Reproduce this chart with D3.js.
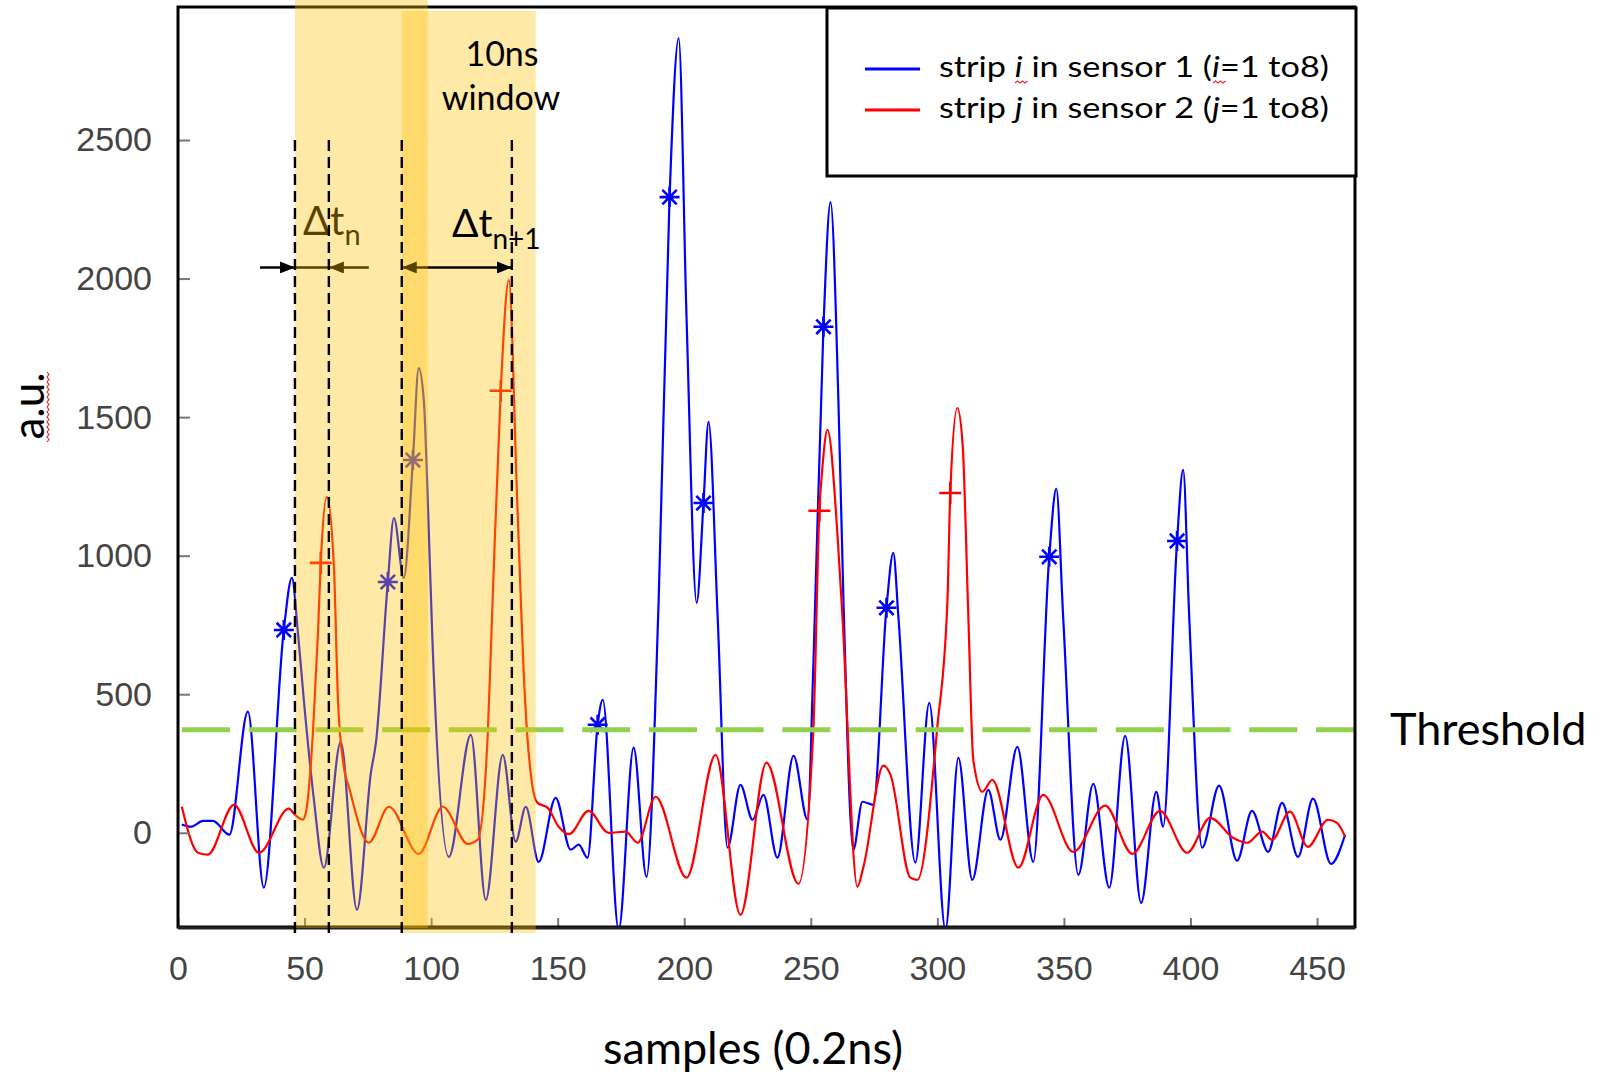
<!DOCTYPE html>
<html>
<head>
<meta charset="utf-8">
<script src="https://cdn.jsdelivr.net/npm/d3@7"></script>
<style>
  body { margin: 0; background: #fff; }
  svg { display: block; }
</style>
</head>
<body>
<svg id="chart" width="1607" height="1078"></svg>
<script>
// values: [sample, a.u.]
const sensor1 = [
  [1.5,30],[5.1,22],[9.9,43],[13.8,43],[20.3,-7],[27.6,437],[33.9,-198],[41.8,732],[45.0,920],
  [47.4,721],[49.7,480],[53.7,119],[57.6,-126],[64.3,328],[70.7,-278],[76.2,216],[78.2,325],
  [82.9,905],[85.3,1136],[89.2,920],[92.8,1345],[95.1,1677],[97.1,1562],[99.1,1082],[100.5,700],
  [107.0,-87],[115.7,353],[121.6,-242],[128.3,281],[133.4,-32],[137.4,94],[142.5,-105],[149.2,126],
  [155.1,-61],[158.3,-43],[161.8,-90],[165.8,390],[167.8,480],[174.1,-350],[180.0,307],[185.1,-159],
  [189.9,841],[194.2,2294],[197.8,2868],[200.9,1862],[204.9,830],[207.6,1190],[209.6,1483],[213.2,780],
  [217.1,-54],[222.2,173],[227.0,47],[231.3,137],[236.8,-90],[243.2,278],[248.7,47],[251.0,600],
  [255.0,1826],[257.8,2276],[260.9,1562],[262.9,841],[266.8,-61],[270.4,112],[274.7,101],[279.9,812],
  [282.6,1010],[284.6,780],[291.3,-108],[296.8,469],[303.2,-350],[308.3,270],[313.8,-170],[320.1,155],
  [324.9,-25],[331.6,310],[337.9,-105],[344.2,996],[347.0,1241],[349.7,780],[355.7,-152],[361.6,177],
  [367.9,-198],[374.2,350],[380.5,-253],[386.5,148],[389.2,22],[394.7,1053],[397.1,1310],[399.5,780],
  [404.6,-54],[411.3,170],[418.4,-101],[424.3,79],[430.7,-69],[436.2,108],[442.5,-87],[448.4,123],
  [455.5,-112],[461.1,-7]
];
const sensor2 = [
  [1.5,94],[7.9,-72],[11.8,-79],[22.1,101],[32.0,-72],[43.8,87],[46.2,65],[49.3,47],[50.5,72],
  [53.3,360],[55.3,721],[56.4,974],[58.8,1212],[61.6,960],[63.2,480],[65.5,238],[67.5,166],
  [75.4,-36],[83.3,94],[95.1,-76],[104.6,94],[114.5,-40],[118.4,-25],[122.4,360],[124.3,841],
  [127.5,1595],[130.7,1995],[134.0,1200],[137.0,500],[140.5,144],[142.1,108],[146.1,90],[150.4,22],
  [154.5,-5],[162.2,79],[170.1,0],[176.8,4],[181.6,-36],[188.7,130],[200.9,-162],[212.4,281],
  [222.2,-296],[232.5,253],[245.1,-184],[251.0,372],[253.4,1162],[254.6,1320],[256.6,1454],
  [260.5,1082],[262.5,779],[268.4,-195],[270.8,-123],[278.7,242],[281.5,209],[289.3,-162],
  [292.1,-170],[300.0,383],[304.0,841],[305.1,1226],[307.9,1533],[310.0,1400],[312.2,794],
  [314.2,263],[317.8,148],[321.7,191],[332.0,-126],[341.8,137],[353.7,-69],[366.3,98],[377.0,-76],
  [388.0,79],[398.7,-72],[407.8,54],[416.8,-18],[422.4,-36],[428.3,4],[432.2,-25],[439.3,76],
  [446.4,-51],[454.3,47],[457.9,36],[461.1,-14]
];
const sensor1Hits = [[41.8,732],[82.9,905],[92.8,1345],[165.8,390],[194.2,2294],[207.6,1190],
  [255.0,1826],[279.9,812],[344.2,996],[394.7,1053]];
const sensor2Hits = [[56.4,974],[127.5,1595],[253.4,1162],[305.1,1226]];

const xTicks = [0, 50, 100, 150, 200, 250, 300, 350, 400, 450];
const yTicks = [0, 500, 1000, 1500, 2000, 2500];
const threshold = 372;
const windowSpans = [[46.2, 98.7], [88.4, 141.3]];
const edgeMarks = [46.2, 59.6, 88.4, 131.9];
const arrowLevel = 2040;
const legendLabels = ["strip ", "i", " in sensor 1 (", "i", "=1 to8)"];
const legendLabels2 = ["strip ", "j", " in sensor 2 (", "j", "=1 to8)"];

const svg = d3.select("#chart");
const pl = 178, pr = 1355, pt = 7, pb = 927;

const x = d3.scaleLinear().domain([0, 465]).range([pl, pr]);
const y = d3.scaleLinear().domain([-340, 2980]).range([pb, pt]);

const calibri = "Lato, 'Open Sans', sans-serif";
const helv = "'Liberation Sans', Arial, sans-serif";

const defs = svg.append("defs");
defs.append("clipPath").attr("id", "plot")
  .append("rect").attr("x", pl).attr("y", pt).attr("width", pr - pl).attr("height", pb - pt);

const line = d3.line().x(d => x(d[0])).y(d => y(d[1])).curve(d3.curveMonotoneX);

const plot = svg.append("g").attr("clip-path", "url(#plot)");
plot.append("path").datum(sensor1).attr("d", line)
  .attr("fill", "none").attr("stroke", "#0000ff").attr("stroke-width", 2.2);
plot.append("path").datum(sensor2).attr("d", line)
  .attr("fill", "none").attr("stroke", "#ff0000").attr("stroke-width", 2.2);

// asterisk markers
const r = 10;
const star = `M${-r},0H${r}M0,${-r}V${r}M${-r*0.72},${-r*0.72}L${r*0.72},${r*0.72}M${-r*0.72},${r*0.72}L${r*0.72},${-r*0.72}`;
plot.selectAll(".star").data(sensor1Hits).enter().append("path")
  .attr("transform", d => `translate(${x(d[0])},${y(d[1])})`)
  .attr("d", star).attr("stroke", "#0000ff").attr("stroke-width", 2.6).attr("fill", "none");
const c = 11;
plot.selectAll(".cross").data(sensor2Hits).enter().append("path")
  .attr("transform", d => `translate(${x(d[0])},${y(d[1])})`)
  .attr("d", `M${-c},0H${c}M0,${-c}V${c}`).attr("stroke", "#ff0000").attr("stroke-width", 2.6);

// threshold
svg.append("line")
  .attr("x1", pl + 4).attr("x2", pr)
  .attr("y1", y(threshold)).attr("y2", y(threshold))
  .attr("stroke", "#92d050").attr("stroke-width", 5).attr("stroke-dasharray", "48,18.7");

// axes
const yAxis = svg.append("g").attr("transform", `translate(${pl},0)`)
  .call(d3.axisLeft(y).tickValues(yTicks).tickFormat(d3.format("d")).tickSize(-12).tickPadding(26));
const xAxis = svg.append("g").attr("transform", `translate(0,${pb})`)
  .call(d3.axisBottom(x).tickValues(xTicks).tickFormat(d3.format("d")).tickSize(-9).tickPadding(29));
[yAxis, xAxis].forEach(a => {
  a.select(".domain").remove();
  a.selectAll(".tick line").attr("stroke", "#777").attr("stroke-width", 2);
  a.selectAll(".tick text").attr("font-family", helv).attr("font-size", 34).attr("fill", "#444");
});

svg.append("rect").attr("x", pl).attr("y", pt).attr("width", pr - pl).attr("height", pb - pt)
  .attr("fill", "none").attr("stroke", "#000").attr("stroke-width", 3);
svg.append("line").attr("x1", pl).attr("x2", pr).attr("y1", pb + 1).attr("y2", pb + 1)
  .attr("stroke", "#222").attr("stroke-width", 3);

// arrow heads
defs.append("marker").attr("id", "head").attr("viewBox", "0 0 15 12")
  .attr("refX", 15).attr("refY", 6).attr("markerWidth", 15).attr("markerHeight", 12)
  .attr("markerUnits", "userSpaceOnUse").attr("orient", "auto-start-reverse")
  .append("path").attr("d", "M0,0L15,6L0,12Z").attr("fill", "#000");

const ay = y(arrowLevel);

// second window (drawn first so that Δt(n+1) sits above it)
const shade = "#ffc000";
svg.append("rect")
  .attr("x", x(windowSpans[1][0])).attr("width", x(windowSpans[1][1]) - x(windowSpans[1][0]))
  .attr("y", pt + 4).attr("height", pb + 6 - pt - 4)
  .attr("fill", shade).attr("fill-opacity", 0.35);

svg.append("line").attr("x1", x(edgeMarks[2])).attr("x2", x(edgeMarks[3])).attr("y1", ay).attr("y2", ay)
  .attr("stroke", "#000").attr("stroke-width", 2.5)
  .attr("marker-start", "url(#head)").attr("marker-end", "url(#head)");

const t2 = svg.append("text").attr("x", 452).attr("y", 237)
  .attr("font-family", calibri).attr("font-size", 39).attr("fill", "#000");
t2.append("tspan").text("Δt");
t2.append("tspan").attr("dy", 12).attr("font-size", 28).text("n+1");

// Δt(n) arrows
svg.append("line").attr("x1", x(32.4)).attr("x2", x(edgeMarks[0])).attr("y1", ay).attr("y2", ay)
  .attr("stroke", "#000").attr("stroke-width", 2.5).attr("marker-end", "url(#head)");
svg.append("line").attr("x1", x(edgeMarks[0])).attr("x2", x(edgeMarks[1])).attr("y1", ay).attr("y2", ay)
  .attr("stroke", "#000").attr("stroke-width", 2.5);
svg.append("line").attr("x1", x(75.4)).attr("x2", x(edgeMarks[1])).attr("y1", ay).attr("y2", ay)
  .attr("stroke", "#000").attr("stroke-width", 2.5).attr("marker-end", "url(#head)");

const t1 = svg.append("text").attr("x", 303).attr("y", 235)
  .attr("font-family", calibri).attr("font-size", 40).attr("fill", "#000");
t1.append("tspan").text("Δt");
t1.append("tspan").attr("dy", 10).attr("font-size", 29).text("n");

// first window
svg.append("rect")
  .attr("x", x(windowSpans[0][0])).attr("width", x(windowSpans[0][1]) - x(windowSpans[0][0]))
  .attr("y", 0).attr("height", pb + 1)
  .attr("fill", shade).attr("fill-opacity", 0.35);

// window edges
svg.selectAll(".edge").data(edgeMarks).enter().append("line")
  .attr("x1", d => x(d)).attr("x2", d => x(d))
  .attr("y1", y(2500)).attr("y2", pb + 6)
  .attr("stroke", "#000").attr("stroke-width", 2.4).attr("stroke-dasharray", "11,6");

svg.append("text").attr("x", 502).attr("y", 66).attr("text-anchor", "middle")
  .attr("font-family", calibri).attr("font-size", 34).text("10ns");
svg.append("text").attr("x", 501).attr("y", 110).attr("text-anchor", "middle")
  .attr("font-family", calibri).attr("font-size", 34).text("window");

// legend
svg.append("rect").attr("x", 827).attr("y", 8).attr("width", 529).attr("height", 168)
  .attr("fill", "#fff").attr("stroke", "#000").attr("stroke-width", 3);
[[legendLabels, "#0000ff", 69, 77], [legendLabels2, "#ff0000", 110, 118]].forEach(([parts, col, ly, ty]) => {
  svg.append("line").attr("x1", 865).attr("x2", 920).attr("y1", ly).attr("y2", ly)
    .attr("stroke", col).attr("stroke-width", 3);
  const t = svg.append("text").attr("x", 939).attr("y", ty)
    .attr("font-family", calibri).attr("font-size", 29)
    .attr("textLength", 390).attr("lengthAdjust", "spacingAndGlyphs");
  parts.forEach((p, i) => t.append("tspan").attr("font-style", i % 2 ? "italic" : null).text(p));
});
// spell-check squiggles
const squiggle = (x0, y0, n, vertical) => {
  let p = `M${x0},${y0}`;
  for (let k = 1; k <= n; k++) {
    const o = k % 2 ? 2 : 0;
    p += vertical ? `L${x0 + o},${y0 + k * 2.5}` : `L${x0 + k * 2.5},${y0 - o}`;
  }
  return p;
};
[[1015, 83], [1213, 83]].forEach(([sx, sy]) =>
  svg.append("path").attr("d", squiggle(sx, sy, 5, false)).attr("fill", "none")
    .attr("stroke", "#e03030").attr("stroke-width", 1.2));
svg.append("path").attr("d", squiggle(47, 372, 28, true)).attr("fill", "none")
  .attr("stroke", "#e03030").attr("stroke-width", 1.2);

svg.append("text").attr("x", 1390).attr("y", 745)
  .attr("font-family", calibri).attr("font-size", 45).text("Threshold");

svg.append("text").attr("x", 753).attr("y", 1064).attr("text-anchor", "middle")
  .attr("font-family", calibri).attr("font-size", 45).text("samples (0.2ns)");
svg.append("text").attr("transform", "translate(44,406) rotate(-90)").attr("text-anchor", "middle")
  .attr("font-family", calibri).attr("font-size", 44).text("a.u.");
</script>
</body>
</html>
